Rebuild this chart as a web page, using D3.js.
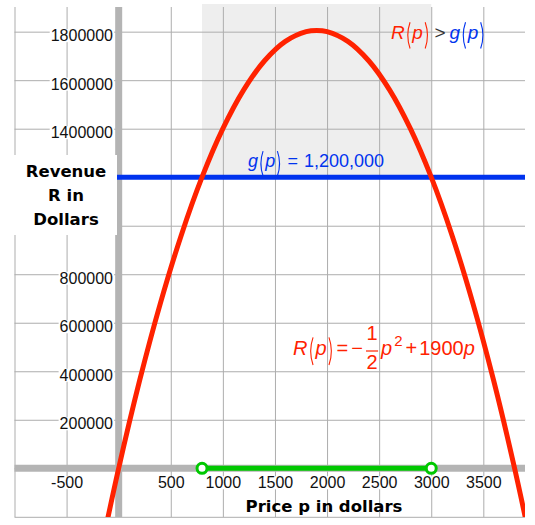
<!DOCTYPE html>
<html>
<head>
<meta charset="utf-8">
<script src="https://cdn.jsdelivr.net/npm/d3@7"></script>
<style>
  body { margin: 0; background: #fff; }
  svg { display: block; font-family: 'Liberation Sans', Arial, sans-serif; }
</style>
</head>
<body>
<div id="chart"></div>
<script>
// values
const gridX = [-1000, -500, 0, 500, 1000, 1500, 2000, 2500, 3000, 3500];
const gridY = [-200000, 0, 200000, 400000, 600000, 800000, 1000000, 1200000, 1400000, 1600000, 1800000];
const xTickLabels = [-500, 500, 1000, 1500, 2000, 2500, 3000, 3500];
// 1000000 and 1200000 sit under the axis title box
const yTickLabels = [200000, 400000, 600000, 800000, 1400000, 1600000, 1800000];

// revenue curve R(p), sampled from the drawn parabola
const priceP = [-200, 0, 200, 400, 600, 800, 1000, 1200, 1400, 1600, 1800, 1900, 2000, 2200, 2400, 2600, 2800, 3000, 3200, 3400, 3600, 3800, 4000];
const revenueR = [-400000, 0, 360000, 680000, 960000, 1200000, 1400000, 1560000, 1680000, 1760000, 1800000, 1805000, 1800000, 1760000, 1680000, 1560000, 1400000, 1200000, 960000, 680000, 360000, 0, -400000];

const gLevel = 1200000;
const intervalP = [800, 3000];

const W = 535, H = 525;
const red = '#ff2200', blue = '#0033ee', green = '#00c800';

const svg = d3.select('#chart').append('svg')
	.attr('width', W)
	.attr('height', H);

const x = d3.scaleLinear().domain([-1000, 3900]).range([14.5, 525]);
const y = d3.scaleLinear().domain([-200000, 1912000]).range([516.8, 4.5]);

svg.append('clipPath').attr('id', 'plot')
	.append('rect')
	.attr('x', 14.5).attr('y', 4).attr('width', 510.5).attr('height', 513);

// shaded band where R(p) > g(p)
svg.append('rect')
	.attr('x', x(intervalP[0]))
	.attr('y', 4)
	.attr('width', x(intervalP[1]) - x(intervalP[0]))
	.attr('height', y(gLevel) - 4)
	.attr('fill', '#eeeeee');

// grid
const gx = svg.append('g')
	.attr('transform', 'translate(0,517)')
	.call(d3.axisBottom(x).tickValues(gridX).tickSize(-510).tickFormat(''));
const gy = svg.append('g')
	.attr('transform', 'translate(14.5,0)')
	.call(d3.axisLeft(y).tickValues(gridY).tickSize(-510.5).tickFormat(''));
[gx, gy].forEach(g => {
	g.select('.domain').remove();
	g.selectAll('line').attr('stroke', '#adadad').attr('stroke-width', 1);
});

// main axes, thick gray
svg.append('line')
	.attr('x1', 14.5).attr('x2', 525)
	.attr('y1', y(0)).attr('y2', y(0))
	.attr('stroke', '#b4b4b4').attr('stroke-width', 7);
svg.append('line')
	.attr('x1', x(0)).attr('x2', x(0))
	.attr('y1', 7).attr('y2', 517)
	.attr('stroke', '#b4b4b4').attr('stroke-width', 7);

// tick labels
function labelBg(g) {
	g.selectAll('.tick').each(function () {
		const t = d3.select(this).select('text');
		const b = t.node().getBBox();
		d3.select(this).insert('rect', 'text')
			.attr('x', b.x - 1).attr('y', b.y + 2)
			.attr('width', b.width + 2).attr('height', b.height - 4)
			.attr('fill', '#fff');
	});
}

const ax = svg.append('g')
	.attr('transform', `translate(0,${y(0)})`)
	.call(d3.axisBottom(x).tickValues(xTickLabels).tickSize(0).tickFormat(d => String(d)));
ax.select('.domain').remove();
ax.selectAll('text')
	.attr('y', 20).attr('dy', 0)
	.attr('font-size', 16)
	.attr('font-family', "'Liberation Sans', Arial, sans-serif")
	.attr('fill', '#111');
labelBg(ax);

const ay = svg.append('g')
	.attr('transform', 'translate(113,0)')
	.call(d3.axisLeft(y).tickValues(yTickLabels).tickSize(0).tickPadding(0).tickFormat(d => String(d)));
ay.select('.domain').remove();
ay.selectAll('text')
	.attr('dy', 0).attr('y', 9)
	.attr('font-size', 16)
	.attr('font-family', "'Liberation Sans', Arial, sans-serif")
	.attr('fill', '#111');
labelBg(ay);

// g(p) line
svg.append('line')
	.attr('x1', 14.5).attr('x2', 525)
	.attr('y1', y(gLevel)).attr('y2', y(gLevel))
	.attr('stroke', blue).attr('stroke-width', 5);

// y title box
svg.append('rect')
	.attr('x', 0).attr('y', 155)
	.attr('width', 117).attr('height', 80)
	.attr('fill', '#fff');
const yTitle = svg.append('text')
	.attr('text-anchor', 'middle')
	.attr('font-family', "'DejaVu Sans', sans-serif")
	.attr('font-weight', 'bold')
	.attr('font-size', 16.5)
	.attr('fill', '#000');
['Revenue', 'R in', 'Dollars'].forEach((s, i) => {
	yTitle.append('tspan').attr('x', 66).attr('y', 177 + i * 24).text(s);
});

// x title
svg.append('text')
	.attr('x', 324).attr('y', 512)
	.attr('text-anchor', 'middle')
	.attr('font-family', "'DejaVu Sans', sans-serif")
	.attr('font-weight', 'bold')
	.attr('font-size', 16.5)
	.attr('fill', '#000')
	.text('Price p in dollars');

// revenue curve
const line = d3.line()
	.x((d, i) => x(priceP[i]))
	.y(d => y(d))
	.curve(d3.curveCatmullRom.alpha(0.5));
svg.append('path')
	.attr('clip-path', 'url(#plot)')
	.attr('d', line(revenueR))
	.attr('fill', 'none')
	.attr('stroke', red)
	.attr('stroke-width', 5);

// interval on the x axis
svg.append('line')
	.attr('x1', x(intervalP[0])).attr('x2', x(intervalP[1]))
	.attr('y1', y(0)).attr('y2', y(0))
	.attr('stroke', green).attr('stroke-width', 5);
svg.selectAll('circle.end')
	.data(intervalP)
	.enter().append('circle')
	.attr('class', 'end')
	.attr('cx', d => x(d)).attr('cy', y(0))
	.attr('r', 5)
	.attr('fill', '#fff')
	.attr('stroke', green).attr('stroke-width', 3);

// little math typesetter for the labels
function mathRow(x0, base, size, color, parts) {
	const g = svg.append('g');
	let cx = x0;
	parts.forEach(p => {
		if (p.gap) { cx += p.gap; return; }
		const col = p.color || color;
		if (p.paren) {
			const w = size * 0.4;
			const top = base - size * 0.88, bot = base + size * 0.5, mid = (top + bot) / 2;
			const d = p.paren === '('
				? `M${cx + w * 0.7},${top} Q${cx + w * 0.1},${mid} ${cx + w * 0.7},${bot}`
				: `M${cx + w * 0.3},${top} Q${cx + w * 0.9},${mid} ${cx + w * 0.3},${bot}`;
			g.append('path').attr('d', d).attr('fill', 'none')
				.attr('stroke', col).attr('stroke-width', 1.1);
			cx += w;
			return;
		}
		if (p.frac) {
			const tn = g.append('text').attr('font-size', size).attr('fill', col).text(p.frac[0]);
			const td = g.append('text').attr('font-size', size).attr('fill', col).text(p.frac[1]);
			const wn = tn.node().getComputedTextLength(), wd = td.node().getComputedTextLength();
			const w = Math.max(wn, wd) + 1;
			const bar = base - size * 0.2;
			tn.attr('x', cx + (w - wn) / 2).attr('y', bar - size * 0.55);
			td.attr('x', cx + (w - wd) / 2).attr('y', bar + size * 0.88);
			g.append('line').attr('x1', cx).attr('x2', cx + w)
				.attr('y1', bar).attr('y2', bar)
				.attr('stroke', col).attr('stroke-width', 1.2);
			cx += w;
			return;
		}
		const t = g.append('text')
			.attr('x', cx).attr('y', base + (p.dy || 0))
			.attr('font-size', p.size || size)
			.attr('font-style', p.it ? 'italic' : null)
			.attr('fill', col)
			.text(p.t);
		cx += t.node().getComputedTextLength();
	});
	return g;
}

mathRow(391, 39, 19, red, [
	{ t: 'R', it: true }, { paren: '(' }, { t: 'p', it: true }, { paren: ')' },
	{ gap: 4 }, { t: '>', color: '#333' }, { gap: 4 },
	{ t: 'g', it: true, color: blue }, { paren: '(', color: blue }, { t: 'p', it: true, color: blue }, { paren: ')', color: blue }
]);

mathRow(248, 167, 18, blue, [
	{ t: 'g', it: true }, { paren: '(' }, { t: 'p', it: true }, { paren: ')' },
	{ gap: 5 }, { t: '=' }, { gap: 6 }, { t: d3.format(',')(gLevel) }
]);

mathRow(293, 355, 20, red, [
	{ t: 'R', it: true }, { paren: '(' }, { t: 'p', it: true }, { paren: ')' },
	{ gap: 2 }, { t: '=' }, { gap: 3 }, { t: '\u2212' }, { gap: 3 },
	{ frac: ['1', '2'] }, { gap: 3 },
	{ t: 'p', it: true }, { gap: 2 }, { t: '2', size: 15, dy: -9 }, { gap: 3 },
	{ t: '+' }, { gap: 2 }, { t: '1900' }, { t: 'p', it: true }
]);
</script>
</body>
</html>
